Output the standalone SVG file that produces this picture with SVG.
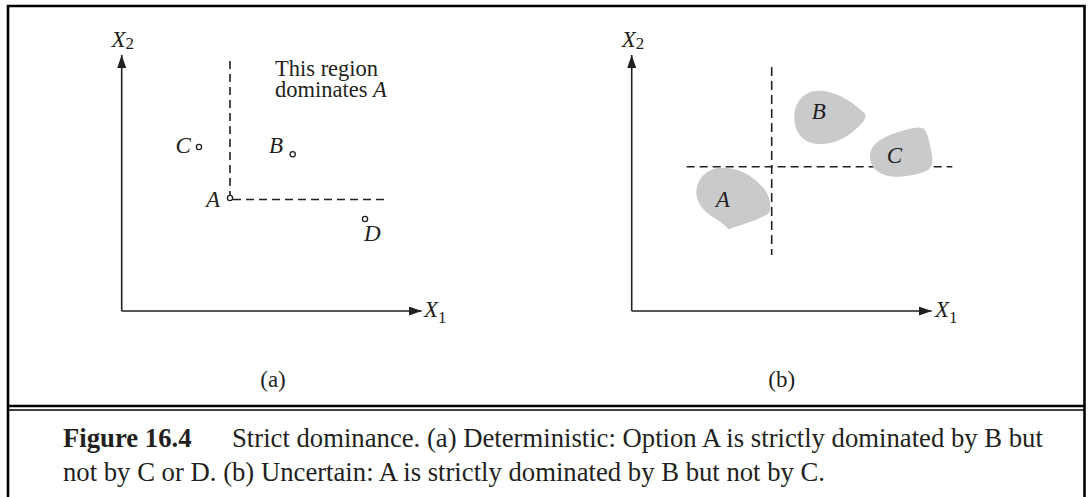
<svg xmlns="http://www.w3.org/2000/svg" width="1089" height="497" viewBox="0 0 1089 497">
<defs>
<style>
.t{font-family:"Liberation Serif","Times New Roman",serif;fill:#231f20;font-size:23px}
.i{font-style:italic}
.sub{font-size:17px;font-style:normal}
.ax{stroke:#231f20;stroke-width:1.6;fill:none}
.dash{stroke:#231f20;stroke-width:1.6;fill:none;stroke-dasharray:8 5}
.pt{fill:#fff;stroke:#231f20;stroke-width:1.3}
.blob{fill:#c9cacc;stroke:none}
.frame{stroke:#000;fill:none}
.cap{font-family:"Liberation Serif","Times New Roman",serif;fill:#231f20;font-size:26.7px}
</style>
<marker id="arr" markerWidth="14" markerHeight="10" refX="13" refY="4.5" orient="auto" markerUnits="userSpaceOnUse">
<path d="M0,0 L13,4.5 L0,9 Z" fill="#231f20"/>
</marker>
</defs>
<rect width="1089" height="497" fill="#fff"/>
<g id="frame" class="frame">
<path d="M8,497 V6 H1084.5 V497" stroke-width="2.6"/>
<line x1="8" y1="406" x2="1084.5" y2="406" stroke-width="2.6"/>
<line x1="8" y1="410" x2="1084.5" y2="410" stroke-width="1.5"/>
</g>
<g id="connectors">
<line class="ax" x1="121.7" y1="311" x2="121.7" y2="55" marker-end="url(#arr)"/>
<line class="ax" x1="121.7" y1="311" x2="421.7" y2="311" marker-end="url(#arr)"/>
<line class="dash" x1="230" y1="61" x2="230" y2="196"/>
<line class="dash" x1="233" y1="199.5" x2="388" y2="199.5"/>
<line class="ax" x1="631.7" y1="311" x2="631.7" y2="55" marker-end="url(#arr)"/>
<line class="ax" x1="631.7" y1="311" x2="931.7" y2="311" marker-end="url(#arr)"/>
<line class="dash" x1="771.7" y1="67" x2="771.7" y2="255" style="stroke-dasharray:9 5"/>
<line class="dash" x1="686.7" y1="166.7" x2="952.3" y2="166.7"/>
</g>
<g id="panel-a">
<text class="t i" x="111.5" y="46.7">X<tspan class="sub" dy="2.6">2</tspan></text>
<text class="t i" x="424" y="316.7">X<tspan class="sub" dy="6">1</tspan></text>
<text class="t" style="font-size:22.5px"><tspan x="275" y="75.5">This region</tspan><tspan x="275" y="97">dominates <tspan class="i">A</tspan></tspan></text>
<text class="t" x="273" y="387" text-anchor="middle">(a)</text>
</g>
<g id="point-A">
<circle class="pt" cx="230" cy="198" r="2.6"/>
<text class="t i" x="220" y="207" text-anchor="end">A</text>
</g>
<g id="point-B">
<circle class="pt" cx="292.7" cy="154.3" r="2.6"/>
<text class="t i" x="269" y="153">B</text>
</g>
<g id="point-C">
<circle class="pt" cx="199" cy="147" r="2.6"/>
<text class="t i" x="175.5" y="153">C</text>
</g>
<g id="point-D">
<circle class="pt" cx="365" cy="219" r="2.6"/>
<text class="t i" x="364" y="241">D</text>
</g>
<g id="panel-b">
<text class="t i" x="621.7" y="46.7">X<tspan class="sub" dy="2.6">2</tspan></text>
<text class="t i" x="935" y="316.7">X<tspan class="sub" dy="6">1</tspan></text>
<text class="t" x="781.7" y="387" text-anchor="middle">(b)</text>
</g>
<g id="blob-A">
<path class="blob" d="M721.7,167.7 C740,167 756,178 765,190 C771,198 772,210 768,214 C758,220 740,225 728.3,229.3 C726,226 722,223 716,219 C702,211 695,200 696.5,190 C698,177 708,168 721.7,167.7 Z"/>
<text class="t i" x="715.7" y="207.3">A</text>
</g>
<g id="blob-B">
<path class="blob" d="M818,90.7 C835,90 855,103 865.3,114 C867,118 862,124 856,129 C846,138 834,144 820,144 C805,144 794,134 794.3,117 C794.5,102 804,91 818,90.7 Z"/>
<text class="t i" x="811.7" y="119.3">B</text>
</g>
<g id="blob-C">
<path class="blob" d="M905,130 C912,128 918,127 921.7,128 C926,129 928,135 930,145 C932,155 935,165 928,170 C918,175 905,177 895,176.7 C882,176 871,170 870,158 C869,149 876,142 882,139 C890,134 898,132 905,130 Z"/>
<text class="t i" x="886.7" y="163">C</text>
</g>
<g id="caption">
<text class="cap" x="63" y="447" font-weight="bold">Figure 16.4</text>
<text class="cap" x="232" y="447">Strict dominance. (a) Deterministic: Option A is strictly dominated by B but</text>
<text class="cap" x="63" y="481">not by C or D. (b) Uncertain: A is strictly dominated by B but not by C.</text>
</g>
</svg>
